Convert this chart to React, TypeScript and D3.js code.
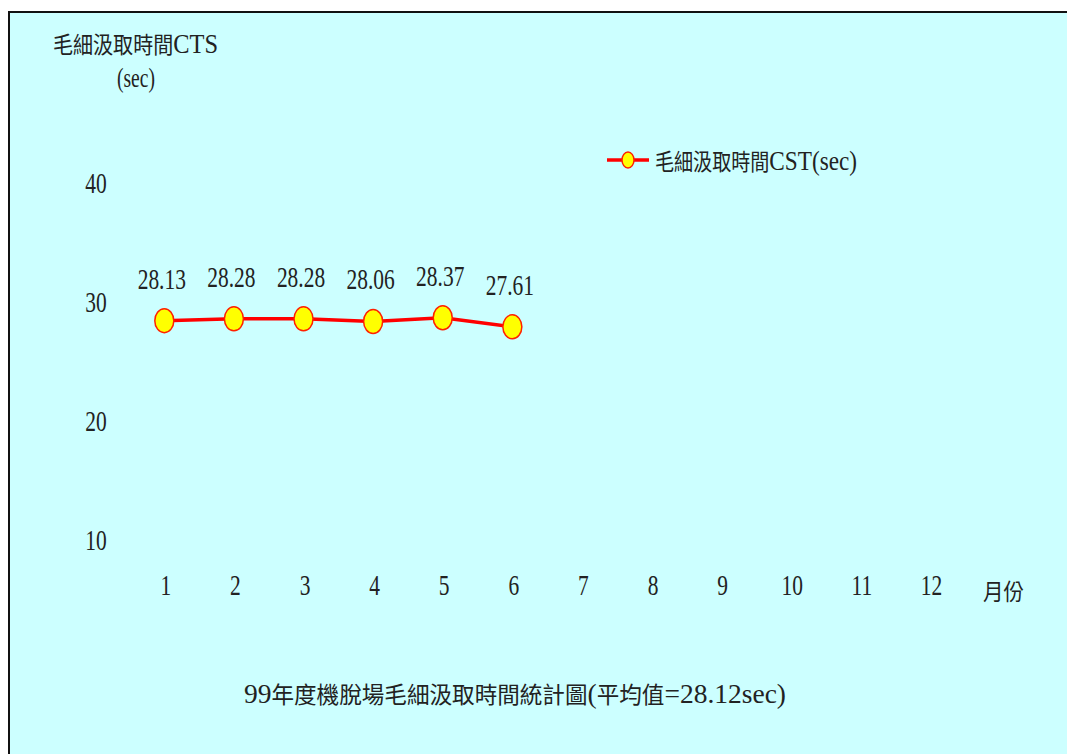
import React from "react";
import * as d3 from "d3";

// 99年度 機脫場 毛細汲取時間 (sec), Jan–Jun
const months = ["1", "2", "3", "4", "5", "6", "7", "8", "9", "10", "11", "12"];
const ctsValues = [28.13, 28.28, 28.28, 28.06, 28.37, 27.61];
const yTicks = [10, 20, 30, 40];

const yTitle = "毛細汲取時間CTS";
const yUnit = "(sec)";
const xTitle = "月份";
const legendLabel = "毛細汲取時間CST(sec)";
const chartTitle = "99年度機脫場毛細汲取時間統計圖(平均值=28.12sec)";

const LATIN = "'Liberation Serif', 'Times New Roman', serif";
const CJK = "'Noto Sans CJK TC', 'Noto Sans CJK SC', sans-serif";

// split mixed text into CJK / latin runs so each gets its own font
function runs(str: string) {
    const out: { cjk: boolean; t: string }[] = [];
    for (const ch of str) {
        const cjk = /[\u3000-\u9fff\uff00-\uffef]/.test(ch);
        const last = out[out.length - 1];
        if (last && last.cjk === cjk) last.t += ch;
        else out.push({ cjk, t: ch });
    }
    return out;
}

function MixedText(props: { x: number; y: number; text: string; len: number; anchor?: string }) {
    const { x, y, text, len, anchor } = props;
    return (
        <text x={x} y={y} textLength={len} lengthAdjust="spacingAndGlyphs"
            textAnchor={anchor || "start"} fill="#222">
            {runs(text).map((r, i) => (
                <tspan key={i} fontFamily={r.cjk ? CJK : LATIN} fontSize={r.cjk ? 23 : 28}>
                    {r.t}
                </tspan>
            ))}
        </text>
    );
}

// narrow serif numbers, like the condensed font of the original
function NumText(props: { x: number; y: number; text: string | number }) {
    const { x, y, text } = props;
    return (
        <text transform={`translate(${x},${y}) scale(0.74,1)`} textAnchor="middle"
            fontFamily={LATIN} fontSize={29} fill="#222">
            {text}
        </text>
    );
}

export default function App() {
    const width = 1067;
    const height = 754;

    const x = d3.scaleLinear().domain([1, 12]).range([164.3, 930]);
    const y = d3.scaleLinear().domain([10, 40]).range([536.4, 179.4]);

    const line = d3
        .line<number>()
        .x((d, i) => x(i + 1))
        .y((d) => y(d));

    return (
        <svg width={width} height={height}
            style={{ position: "fixed", left: 0, top: 0, background: "#fff" }}>
            <rect x={9} y={12} width={width + 20} height={height + 20}
                fill="#CCFFFF" stroke="#111" strokeWidth={2} />

            {/* axis titles */}
            <MixedText x={53} y={53} text={yTitle} len={165} />
            <MixedText x={117} y={87} text={yUnit} len={38} />

            {/* y tick labels */}
            {yTicks.map((t) => (
                <NumText key={t} x={96} y={y(t) + 14} text={t} />
            ))}

            {/* month labels */}
            {months.map((m, i) => (
                <NumText key={m} x={x(i + 1) + 1.5} y={595} text={m} />
            ))}
            <MixedText x={983} y={600} text={xTitle} len={41} />

            {/* series */}
            <path d={line(ctsValues) || ""} fill="none" stroke="#FF0000" strokeWidth={3.5} />
            {ctsValues.map((v, i) => (
                <ellipse key={i} cx={x(i + 1)} cy={y(v)} rx={9.5} ry={12}
                    fill="#FFFF00" stroke="#FF2000" strokeWidth={1.5} />
            ))}
            {ctsValues.map((v, i) => (
                <NumText key={"l" + i} x={x(i + 1) - 2.5} y={y(v) - 32} text={v.toFixed(2)} />
            ))}

            {/* legend */}
            <line x1={607} x2={649} y1={160} y2={160} stroke="#FF0000" strokeWidth={3.5} />
            <ellipse cx={628} cy={160} rx={6} ry={8} fill="#FFFF00" stroke="#FF2000" strokeWidth={1.5} />
            <MixedText x={655} y={170} text={legendLabel} len={202} />

            {/* chart title */}
            <MixedText x={244} y={703} text={chartTitle} len={542} />
        </svg>
    );
}
